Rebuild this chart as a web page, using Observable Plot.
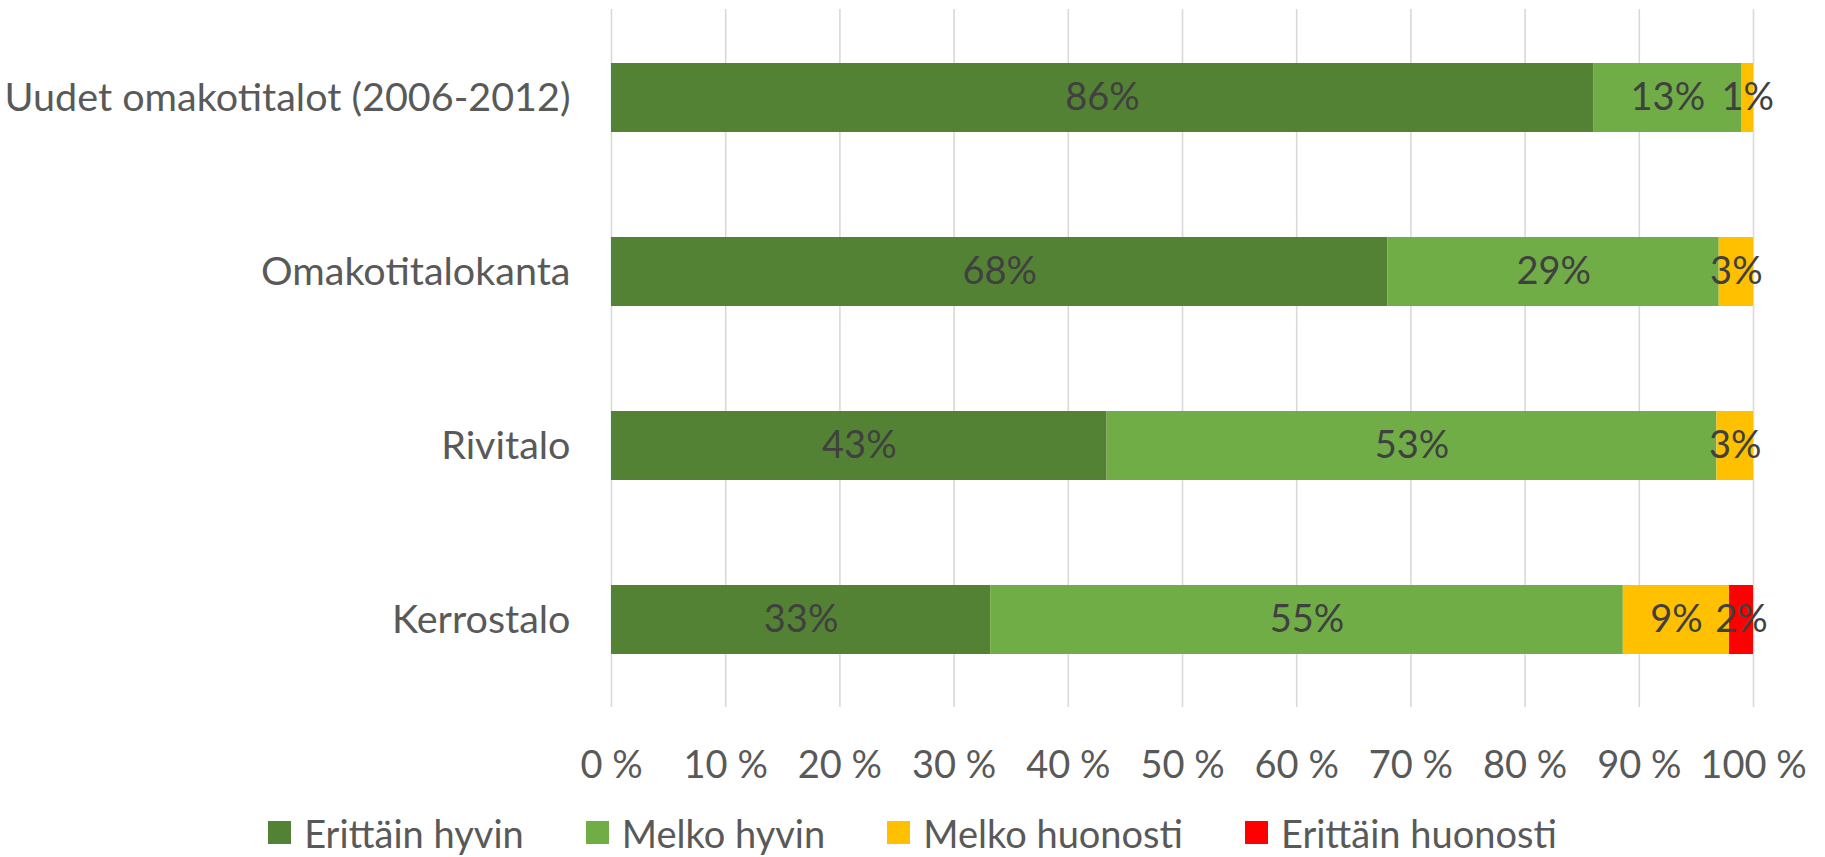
<!DOCTYPE html>
<html>
<head>
<meta charset="utf-8">
<script src="https://cdn.jsdelivr.net/npm/d3@7"></script>
<script src="https://cdn.jsdelivr.net/npm/@observablehq/plot@0.6"></script>
<style>
  html, body { margin: 0; padding: 0; background: #fff; }
  #chart { width: 1825px; }
  #legend { display: flex; justify-content: center; align-items: center; height: 57px; padding-top: 8px; box-sizing: border-box; gap: 62px; font-family: Lato, sans-serif; font-size: 38px; color: #595959; }
  .item { display: flex; align-items: center; gap: 13px; }
  .sw { width: 23px; height: 23px; display: inline-block; }
</style>
</head>
<body>
<div id="chart"></div>
<div id="legend"></div>
<script>
const categories = ["Uudet omakotitalot (2006-2012)", "Omakotitalokanta", "Rivitalo", "Kerrostalo"];
const seriesNames = ["Erittäin hyvin", "Melko hyvin", "Melko huonosti", "Erittäin huonosti"];
const seriesColors = ["#548235", "#70AD47", "#FFC000", "#FF0000"];
// values per series, in category order (percent)
const erittainHyvin = [86.0, 68.0, 43.4, 33.2];
const melkoHyvin = [13.0, 29.0, 53.4, 55.4];
const melkoHuonosti = [1.0, 3.0, 3.2, 9.3];
const erittainHuonosti = [0.0, 0.0, 0.0, 2.1];
const xTicks = [0, 10, 20, 30, 40, 50, 60, 70, 80, 90, 100];

const seriesValues = [erittainHyvin, melkoHyvin, melkoHuonosti, erittainHuonosti];
const data = [];
categories.forEach((c, i) => {
  seriesNames.forEach((s, j) => {
    data.push({cat: c, series: s, value: seriesValues[j][i]});
  });
});
const labeled = data.filter(d => d.value > 0);

const font = "Lato, sans-serif";
const chart = Plot.plot({
  width: 1825,
  height: 800,
  marginLeft: 611,
  marginRight: 72,
  marginTop: 9,
  marginBottom: 93,
  style: {fontFamily: font, fontSize: "38px", color: "#595959", background: "#fff"},
  x: {domain: [0, 100], label: null},
  y: {domain: categories, label: null, paddingInner: 0.605, paddingOuter: 0.3025},
  color: {domain: seriesNames, range: seriesColors},
  marks: [
    Plot.gridX(xTicks, {stroke: "#D9D9D9", strokeOpacity: 1, strokeWidth: 1.6}),
    Plot.axisX({ticks: xTicks, tickSize: 0, tickPadding: 44, tickFormat: d => d + " %", fill: "#595959", fontSize: 38, label: null}),
    Plot.axisY({tickSize: 0, tickPadding: 41, fill: "#595959", fontSize: 39.5, label: null}),
    Plot.barX(data, Plot.stackX({x: "value", y: "cat", fill: "series", order: seriesNames})),
    Plot.text(labeled, Plot.stackX({x: "value", y: "cat", z: "series", order: seriesNames, text: d => Math.round(d.value) + "%", fill: "#404040", fontSize: 38}))
  ]
});
document.getElementById("chart").appendChild(chart);

const legend = document.getElementById("legend");
seriesNames.forEach((s, i) => {
  const item = document.createElement("div");
  item.className = "item";
  const sw = document.createElement("span");
  sw.className = "sw";
  sw.style.background = seriesColors[i];
  const t = document.createElement("span");
  t.textContent = s;
  item.appendChild(sw);
  item.appendChild(t);
  legend.appendChild(item);
});
</script>
</body>
</html>
